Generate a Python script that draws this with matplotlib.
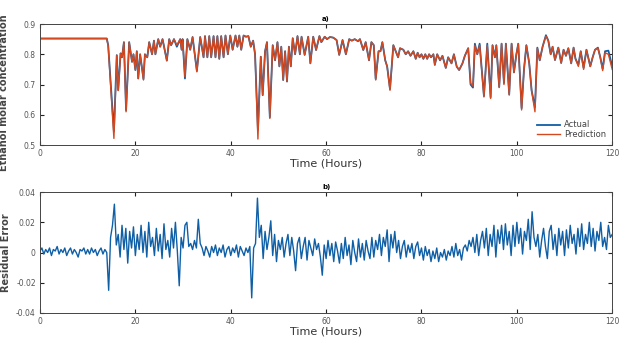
import numpy as np
import matplotlib
matplotlib.use("Agg")
import matplotlib.pyplot as plt

# ---------------- data: panel a) (key vertices of the traces) ----------------
t_top = [0, 14.0, 14.3, 15.5, 16.1, 16.4, 16.9, 17.2, 17.6, 18.05, 18.7, 19.3, 19.6, 20.0, 20.3,
         20.6, 21.0, 21.7, 22.0, 22.5, 22.9, 23.5, 23.9, 24.2, 24.8, 25.2, 25.7, 26.6, 27.1, 27.5,
         28.1, 28.7, 29.4, 29.7, 29.9, 30.4, 30.9, 31.5, 32.0, 32.9, 33.6, 34.3, 34.6, 35.1, 35.5,
         35.9, 36.4, 36.8, 37.2, 37.6, 38.0, 38.5, 38.9, 39.4, 39.9, 40.4, 41.0, 41.4, 41.8, 42.2,
         42.7, 43.2, 43.7, 44.2, 44.7, 45.1, 45.7, 46.3, 46.7, 47.2, 47.6, 48.2, 48.8, 49.3, 49.8,
         50.2, 50.6, 51.0, 51.4, 51.8, 52.2, 52.6, 53.0, 53.5, 54.0, 54.5, 54.85, 55.5, 56.25, 56.7,
         57.3, 57.9, 58.6, 59.0, 59.7, 60.2, 60.8, 61.5, 62.2, 62.75, 63.45, 64.15, 64.85, 65.4, 66.0,
         66.7, 67.1, 67.8, 68.3, 69.0, 69.5, 70.0, 70.4, 71.0, 71.4, 71.8, 72.4, 72.8, 73.4, 74.1,
         74.6, 75.1, 75.5, 76.2, 76.7, 77.2, 77.7, 78.3, 78.8, 79.2, 79.6, 80.0, 80.4, 80.8, 81.2,
         81.6, 82.0, 82.5, 82.8, 83.3, 83.9, 84.4, 85.1, 85.6, 86.3, 86.8, 87.4, 87.9, 88.6, 89.1,
         89.8, 90.3, 90.8, 91.2, 91.7, 92.2, 93.1, 93.8, 94.5, 94.9, 95.4, 95.7, 96.3, 96.8, 97.3,
         97.7, 98.4, 98.9, 99.4, 99.9, 100.3, 101.0, 101.5, 102.0, 102.6, 103.1, 103.8, 104.3, 104.8, 105.4,
         106.1, 106.6, 107.1, 107.5, 108.0, 108.7, 109.3, 109.8, 110.3, 110.8, 111.4, 111.9, 112.3, 112.9, 113.4,
         114.0, 114.6, 115.4, 115.9, 116.4, 117.0, 117.5, 118.0, 118.5, 119.2, 120.0]

actual = [0.852, 0.852, 0.830, 0.545, 0.797, 0.682, 0.803, 0.790, 0.840, 0.615, 0.840, 0.775, 0.800, 0.748, 0.810,
          0.720, 0.800, 0.718, 0.800, 0.790, 0.840, 0.800, 0.845, 0.800, 0.850, 0.825, 0.850, 0.779, 0.850, 0.830,
          0.850, 0.825, 0.850, 0.815, 0.850, 0.720, 0.850, 0.815, 0.857, 0.745, 0.857, 0.790, 0.860, 0.790, 0.860,
          0.790, 0.860, 0.790, 0.860, 0.785, 0.860, 0.790, 0.862, 0.800, 0.862, 0.815, 0.862, 0.825, 0.862, 0.815,
          0.862, 0.858, 0.860, 0.825, 0.845, 0.800, 0.550, 0.792, 0.665, 0.810, 0.840, 0.592, 0.830, 0.780, 0.840,
          0.760, 0.825, 0.715, 0.810, 0.710, 0.825, 0.760, 0.853, 0.800, 0.860, 0.800, 0.858, 0.798, 0.858, 0.770,
          0.858, 0.814, 0.860, 0.840, 0.858, 0.850, 0.857, 0.855, 0.847, 0.798, 0.847, 0.800, 0.850, 0.845, 0.850,
          0.843, 0.850, 0.814, 0.840, 0.780, 0.840, 0.830, 0.718, 0.810, 0.810, 0.840, 0.780, 0.760, 0.685, 0.830,
          0.810, 0.790, 0.820, 0.815, 0.800, 0.810, 0.795, 0.810, 0.785, 0.805, 0.790, 0.800, 0.785, 0.800, 0.785,
          0.800, 0.790, 0.800, 0.765, 0.800, 0.780, 0.795, 0.755, 0.790, 0.770, 0.800, 0.759, 0.748, 0.770, 0.795,
          0.820, 0.700, 0.690, 0.835, 0.800, 0.835, 0.662, 0.835, 0.658, 0.830, 0.790, 0.830, 0.692, 0.835, 0.705,
          0.835, 0.668, 0.835, 0.740, 0.800, 0.835, 0.622, 0.750, 0.830, 0.770, 0.680, 0.625, 0.822, 0.780, 0.825,
          0.863, 0.845, 0.800, 0.825, 0.781, 0.822, 0.772, 0.815, 0.795, 0.820, 0.770, 0.822, 0.785, 0.765, 0.810,
          0.755, 0.815, 0.760, 0.790, 0.815, 0.822, 0.790, 0.752, 0.810, 0.812, 0.760]

prediction = [0.852, 0.852, 0.828, 0.522, 0.797, 0.680, 0.803, 0.790, 0.840, 0.610, 0.840, 0.775, 0.800, 0.748, 0.810,
              0.720, 0.800, 0.715, 0.800, 0.790, 0.840, 0.800, 0.845, 0.800, 0.850, 0.825, 0.850, 0.779, 0.850, 0.830,
              0.850, 0.830, 0.850, 0.815, 0.850, 0.726, 0.850, 0.815, 0.857, 0.742, 0.857, 0.790, 0.860, 0.790, 0.860,
              0.790, 0.860, 0.790, 0.860, 0.785, 0.860, 0.790, 0.862, 0.800, 0.862, 0.815, 0.862, 0.825, 0.862, 0.815,
              0.862, 0.858, 0.860, 0.825, 0.845, 0.800, 0.520, 0.792, 0.665, 0.810, 0.840, 0.588, 0.830, 0.780, 0.840,
              0.760, 0.825, 0.715, 0.810, 0.710, 0.825, 0.760, 0.853, 0.800, 0.860, 0.800, 0.858, 0.798, 0.858, 0.770,
              0.858, 0.814, 0.860, 0.840, 0.858, 0.850, 0.857, 0.855, 0.847, 0.798, 0.847, 0.800, 0.850, 0.845, 0.850,
              0.843, 0.850, 0.814, 0.840, 0.780, 0.840, 0.830, 0.715, 0.810, 0.810, 0.840, 0.780, 0.760, 0.681, 0.830,
              0.810, 0.790, 0.820, 0.815, 0.800, 0.810, 0.795, 0.810, 0.785, 0.805, 0.790, 0.800, 0.785, 0.800, 0.785,
              0.800, 0.790, 0.800, 0.765, 0.800, 0.780, 0.795, 0.755, 0.790, 0.770, 0.800, 0.759, 0.748, 0.770, 0.795,
              0.820, 0.704, 0.695, 0.830, 0.800, 0.830, 0.659, 0.830, 0.654, 0.830, 0.790, 0.830, 0.690, 0.835, 0.700,
              0.835, 0.665, 0.835, 0.740, 0.800, 0.835, 0.616, 0.750, 0.830, 0.770, 0.680, 0.610, 0.820, 0.780, 0.825,
              0.860, 0.845, 0.800, 0.825, 0.781, 0.822, 0.770, 0.815, 0.795, 0.820, 0.770, 0.822, 0.785, 0.760, 0.810,
              0.750, 0.815, 0.760, 0.790, 0.815, 0.820, 0.790, 0.746, 0.805, 0.800, 0.750]

# ---------------- data: panel b) residual error (0.4 h sampling) ----------------
residual = [
    0.001, 0.003, -0.001, 0.002, 0.000, 0.003, -0.002, 0.002, 0.001, 0.004, -0.001, 0.002, 0.000, 0.003, -0.002,
    0.001, 0.003, -0.001, 0.002, 0.000, -0.003, 0.002, 0.001, 0.003, -0.001,
    0.002, -0.001, 0.003, 0.000, 0.002, -0.002, 0.001, 0.003, -0.001, 0.002, 0.000, -0.025, 0.010, 0.018, 0.032,
    0.005, 0.012, -0.003, 0.018, 0.002, 0.016, -0.007, 0.014, 0.003, 0.017,
    -0.002, 0.012, 0.002, 0.018, 0.000, 0.014, -0.003, 0.020, 0.004, 0.010, -0.002, 0.016, 0.001, 0.012, -0.004,
    0.019, 0.002, 0.008, -0.003, 0.016, 0.003, 0.020, 0.001, -0.022, 0.010,
    0.003, 0.018, 0.020, 0.004, 0.006, 0.002, 0.008, 0.003, 0.022, 0.006, 0.003, -0.002, 0.004, 0.001, -0.003,
    0.004, 0.000, 0.005, -0.002, 0.003, 0.000, 0.005, -0.003, 0.002, 0.004,
    -0.002, 0.003, 0.000, 0.005, -0.003, 0.004, 0.001, -0.002, 0.003, 0.000, 0.004, -0.030, 0.003, 0.006, 0.036,
    0.010, 0.018, -0.004, 0.014, 0.002, 0.010, 0.021, -0.002, 0.012, -0.006,
    0.008, 0.002, 0.010, -0.003, 0.006, 0.012, -0.002, 0.010, 0.001, -0.012, 0.006, 0.010, -0.004, 0.004, 0.010,
    -0.005, 0.008, 0.003, -0.002, 0.009, 0.002, 0.006, -0.003, -0.015, 0.005,
    -0.004, 0.008, -0.002, 0.006, -0.006, 0.007, 0.001, -0.007, 0.006, -0.004, 0.010, -0.002, 0.005, -0.008, 0.008,
    0.000, -0.006, 0.009, -0.003, 0.006, -0.005, 0.008, 0.001, -0.004, 0.010,
    -0.003, 0.008, 0.002, 0.012, -0.002, 0.010, 0.004, 0.015, -0.006, 0.012, 0.003, 0.014, 0.000, 0.008, -0.004,
    0.004, 0.008, -0.003, 0.005, 0.000, 0.006, -0.004, 0.004, 0.007, -0.002,
    0.003, -0.005, 0.004, -0.002, 0.002, -0.006, 0.001, -0.004, 0.003, -0.006, 0.000, -0.003, 0.002, -0.005, 0.001,
    -0.002, 0.004, -0.003, 0.006, -0.002, 0.002, -0.005, 0.003, 0.005, 0.001,
    0.008, 0.004, 0.010, 0.000, 0.012, -0.002, 0.008, 0.014, 0.003, 0.016, -0.002, 0.012, 0.004, 0.018, -0.003,
    0.015, 0.006, 0.018, 0.002, 0.019, 0.005, 0.014, -0.002, 0.018, 0.004,
    0.020, 0.006, 0.016, -0.001, 0.014, 0.008, 0.022, 0.002, 0.027, 0.010, 0.004, 0.012, -0.003, 0.008, 0.016,
    0.004, -0.004, 0.014, 0.018, 0.002, 0.012, -0.002, 0.016, 0.005, 0.014,
    -0.002, 0.015, 0.003, 0.018, 0.006, 0.012, -0.001, 0.016, 0.004, 0.019, 0.002, 0.012, 0.006, 0.020, 0.004,
    0.016, 0.001, 0.014, 0.008, 0.020, 0.004, 0.010, 0.002, 0.018, 0.010, 0.012]
t_res = np.linspace(0, 120, len(residual))

x_ticks = [0, 20, 40, 60, 80, 100, 120]
y_ticks_top = [0.5, 0.6, 0.7, 0.8, 0.9]
y_ticks_bot = [-0.04, -0.02, 0, 0.02, 0.04]
y_labels_bot = ["-0.04", "-0.02", "0", "0.02", "0.04"]

BLUE = "#0f5fa6"
RED = "#d4491f"

fig = plt.figure(figsize=(6.24, 3.43), dpi=100)
fig.patch.set_facecolor("white")
ax1 = fig.add_axes([0.0641, 0.577, 0.917, 0.353])
ax2 = fig.add_axes([0.0641, 0.0875, 0.917, 0.3525])

ax1.plot(t_top, actual, color=BLUE, lw=1.3, label="Actual")
ax1.plot(t_top, prediction, color=RED, lw=1.0, label="Prediction")
ax2.plot(t_res, residual, color=BLUE, lw=1.0)

for ax in (ax1, ax2):
    ax.set_xlim(0, 120)
    ax.set_xticks(x_ticks)
    ax.tick_params(direction="in", length=3, width=0.8, colors="#222222", labelcolor="#555555",
                   labelsize=5.5, top=True, right=True, pad=3)
    for s in ax.spines.values():
        s.set_color("#444444")
        s.set_linewidth(0.7)
    ax.set_xlabel("Time (Hours)", fontsize=8, color="#333333", labelpad=0)

ax1.set_ylim(0.5, 0.9)
ax1.set_yticks(y_ticks_top)
ax1.set_ylabel("Ethanol molar concentration", fontsize=7, fontweight="bold", color="#444444")
ax1.yaxis.set_label_coords(-0.054, 0.43)
ax1.set_title("a)", fontsize=5, fontweight="bold", pad=2)
leg = ax1.legend(loc="lower right", frameon=False, fontsize=6, handlelength=2.8,
                 borderaxespad=0.3, labelspacing=0.1, handletextpad=0.5)
for txt in leg.get_texts():
    txt.set_color("#444444")

ax2.set_ylim(-0.04, 0.04)
ax2.set_yticks(y_ticks_bot)
ax2.set_yticklabels(y_labels_bot)
ax2.set_ylabel("Residual Error", fontsize=7, fontweight="bold", color="#444444", labelpad=4)
ax2.set_title("b)", fontsize=5, fontweight="bold", pad=2)

fig.savefig("out.png", dpi=100, facecolor="white")
